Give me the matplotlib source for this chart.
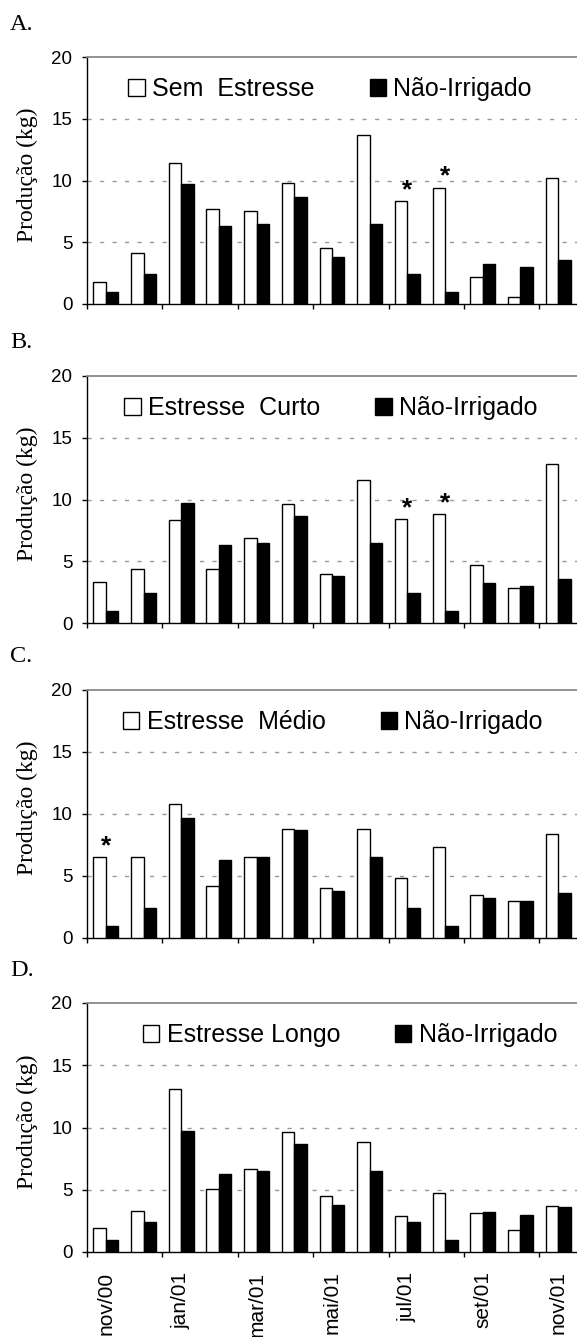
import numpy as np
import matplotlib
matplotlib.use('Agg')
import matplotlib.pyplot as plt

months = ['nov/00', 'dez/00', 'jan/01', 'fev/01', 'mar/01', 'abr/01', 'mai/01',
          'jun/01', 'jul/01', 'ago/01', 'set/01', 'out/01', 'nov/01']

nao_irrigado = [1.0, 2.4, 9.7, 6.3, 6.5, 8.7, 3.8, 6.5, 2.4, 1.0, 3.2, 3.0, 3.6]
sem_estresse = [1.8, 4.1, 11.4, 7.7, 7.5, 9.8, 4.5, 13.7, 8.3, 9.4, 2.2, 0.6, 10.2]
estresse_curto = [3.3, 4.4, 8.3, 4.4, 6.9, 9.6, 4.0, 11.6, 8.4, 8.8, 4.7, 2.8, 12.9]
estresse_medio = [6.5, 6.5, 10.8, 4.2, 6.5, 8.8, 4.0, 8.8, 4.8, 7.3, 3.5, 3.0, 8.4]
estresse_longo = [1.9, 3.3, 13.1, 5.1, 6.7, 9.6, 4.5, 8.8, 2.9, 4.7, 3.1, 1.8, 3.7]

panels = [
    ('A.', 'Sem  Estresse', sem_estresse, [8, 9]),
    ('B.', 'Estresse  Curto', estresse_curto, [8, 9]),
    ('C.', 'Estresse  Médio', estresse_medio, [0]),
    ('D.', 'Estresse Longo', estresse_longo, []),
]

# pixel boxes (top, bottom) of each plot area, and legend centre (x frac)
boxes = [(57, 304), (376, 623), (690, 938), (1003, 1252)]
leg_x = [0.496, 0.498, 0.502, 0.537]

W, H = 577, 1337
fig = plt.figure(figsize=(W / 100, H / 100), dpi=100)

sans = 'Liberation Sans'
serif = 'Liberation Serif'

x = np.arange(len(months))
bw = 0.33

for i, (letter, name, vals, stars) in enumerate(panels):
    top, bot = boxes[i]
    ax = fig.add_axes([87 / W, 1 - bot / H, 490 / W, (bot - top) / H])

    ax.bar(x - bw / 2, vals, bw, color='white', edgecolor='black', linewidth=1.0,
           zorder=3, label=name)
    ax.bar(x + bw / 2, nao_irrigado, bw, color='black', edgecolor='black', linewidth=1.0,
           zorder=3, label='Não-Irrigado')

    for s in stars:
        ax.annotate('*', (x[s], vals[s]), xytext=(0, 3), textcoords='offset points',
                    ha='center', va='baseline', fontsize=19, family=sans,
                    fontweight='bold')

    ax.set_xlim(-0.5, len(months) - 0.5)
    ax.set_ylim(0, 20)
    ax.set_yticks([0, 5, 10, 15, 20])
    for g in [5, 10, 15]:
        ax.axhline(g, color='#999999', linewidth=1.0, linestyle=(0, (3, 6)), zorder=1)

    ax.set_xticks(np.arange(-0.5, len(months) - 1, 2))
    ax.set_xticklabels([])
    ax.tick_params(axis='both', direction='out', length=3.5, width=1.0, color='black')
    ax.tick_params(axis='y', labelsize=13.5, pad=7)
    for lab in ax.get_yticklabels():
        lab.set_family(sans)

    if i == 3:
        ax.set_xticks(x[::2], minor=True)
        ax.set_xticklabels(months[::2], minor=True, rotation=90, fontsize=15,
                           family=sans, va='top')
        ax.tick_params(axis='x', which='minor', length=0, pad=14)

    ax.spines['right'].set_visible(False)
    ax.spines['top'].set_color('#888888')
    ax.spines['top'].set_linewidth(1.3)
    ax.spines['left'].set_linewidth(1.0)
    ax.spines['bottom'].set_linewidth(1.0)

    ax.legend(ncol=2, frameon=False, loc='center', bbox_to_anchor=(leg_x[i], 0.87),
              prop={'family': sans, 'size': 18}, handlelength=0.65, handleheight=0.65,
              handletextpad=0.3, columnspacing=2.2, borderpad=0)

    fig.text(10 / W, 1 - (top - 33) / H, letter, family=serif, fontsize=17.5,
             ha='left', va='center')
    fig.text(27 / W, 1 - ((top + bot) / 2 - 6) / H, 'Produção (kg)', family=serif,
             fontsize=17, rotation=90, ha='center', va='center')

fig.savefig('out.png', dpi=100)
